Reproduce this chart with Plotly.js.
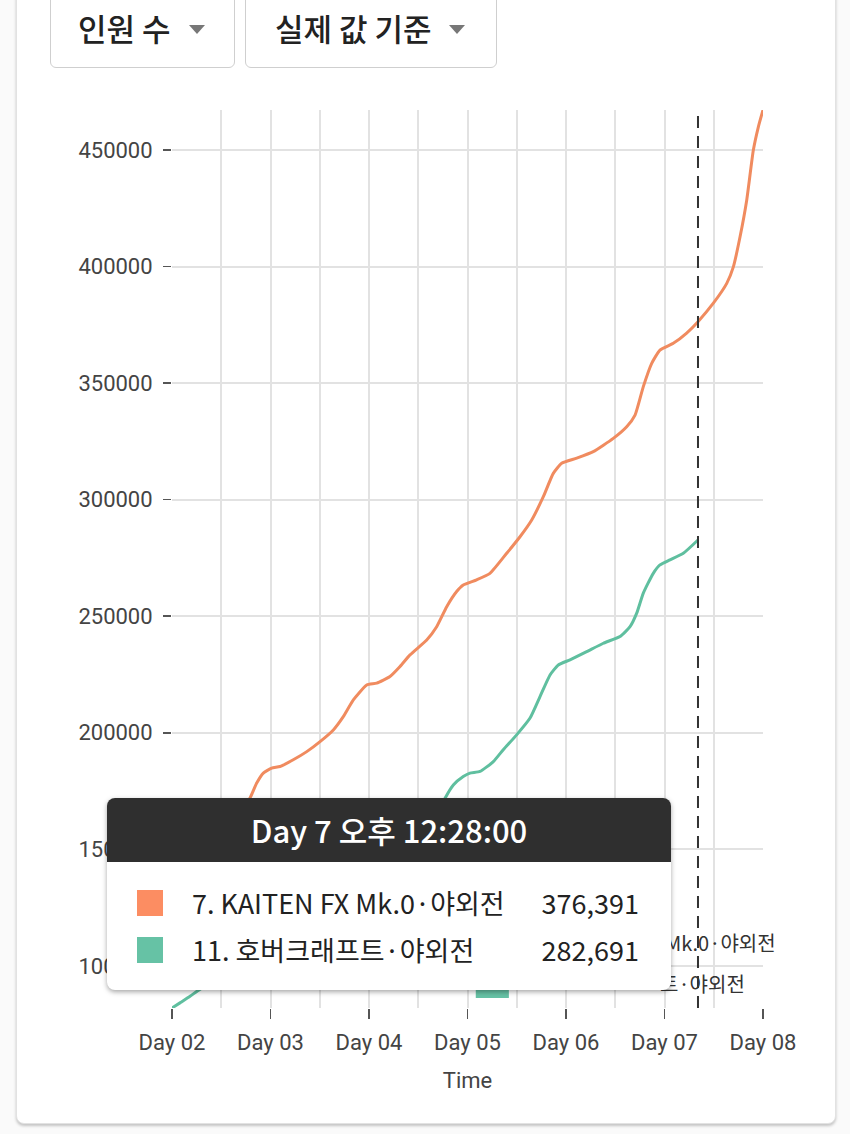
<!DOCTYPE html>
<html><head><meta charset="utf-8">
<script src="https://cdn.plot.ly/plotly-3.0.1.min.js"></script>
<style>
html,body{margin:0;padding:0;width:850px;height:1134px;overflow:hidden;background:#fafafa;font-family:"Noto Sans CJK KR","Noto Sans",sans-serif;}
#card{position:absolute;left:16px;top:-20px;width:818px;height:1142px;background:#fff;border:1px solid #e2e2e2;border-radius:8px;box-shadow:0 2px 3px rgba(0,0,0,0.22);}
.dd{position:absolute;top:-12px;height:80px;border:1px solid #cfcfcf;border-radius:6px;background:#fff;box-sizing:border-box;color:#222;}
.dd .t{position:absolute;left:27px;top:23px;font-size:31px;line-height:31px;font-weight:500;white-space:nowrap;}
.dd .a{position:absolute;top:36px;width:0;height:0;border-left:8px solid transparent;border-right:8px solid transparent;border-top:9px solid #777;}
#plot{position:absolute;left:0;top:0;width:850px;height:1134px;}
#tip{position:absolute;left:107px;top:798px;width:564px;height:192px;background:#fff;border-radius:8px;box-shadow:0 2px 5px rgba(0,0,0,0.35);overflow:hidden;}
#tip .h{height:64px;background:#2f2f2f;color:#fff;font-size:31px;line-height:64px;text-align:center;font-weight:500;}
#tip .r{position:absolute;left:0;width:564px;height:32px;}
#tip .s{position:absolute;left:30px;top:3px;width:26px;height:26px;}
#tip .n{position:absolute;left:85px;top:0;font-size:27px;line-height:32px;color:#222;white-space:nowrap;}
#tip .v{position:absolute;right:32px;top:0;font-size:27px;line-height:32px;color:#222;}
</style></head>
<body>
<div id="card"></div>
<div class="dd" style="left:50px;width:185px;"><span class="t">인원 수</span><span class="a" style="left:138px;"></span></div>
<div class="dd" style="left:245px;width:252px;"><span class="t" style="left:29px;">실제 값 기준</span><span class="a" style="left:203px;"></span></div>
<div id="plot"></div>
<div id="tip"></div>
<script>
// x values: day number (2.0 = Day 02 00:00)
const seriesNames = ["7. KAITEN FX Mk.0·야외전", "11. 호버크래프트·야외전"];
const endLabels = ["Mk.0·야외전", "트·야외전"];  // visible parts of the end labels (rest hidden by tooltip)
const seriesColors = ["#fc8d62", "#66c2a5"];
const hoverDay = 7.34;
const hoverTitle = "Day 7 오후 12:28:00";

const orangeDays = [2.000,2.234,2.437,2.609,2.721,2.799,2.860,2.927,3.012,3.096,3.231,3.368,3.503,3.638,3.739,3.841,3.977,4.078,4.213,4.315,4.416,4.586,4.687,4.789,4.890,4.957,5.093,5.228,5.398,5.533,5.652,5.770,5.871,5.956,6.109,6.277,6.480,6.616,6.701,6.785,6.870,6.954,7.089,7.225,7.340,7.496,7.632,7.699,7.767,7.835,7.902,7.953,8.000];
const orangeValues = [143300,147600,152800,160500,166900,172600,178400,182700,184800,185500,188400,191900,196200,201200,206900,214100,220500,221300,224100,228400,233400,239800,245500,254100,260600,263400,265600,268400,277000,284100,291300,301300,311300,315600,317800,320600,326300,331300,336300,348500,358500,364200,367100,371500,376391,384300,392800,399900,412800,428600,450000,460000,467200];

const greenDays = [2.000,2.081,2.183,2.251,2.497,2.741,2.914,3.046,3.299,3.553,3.756,3.909,4.061,4.315,4.569,4.690,4.772,4.856,4.957,5.025,5.127,5.262,5.363,5.499,5.635,5.736,5.838,5.922,6.041,6.210,6.379,6.548,6.650,6.718,6.785,6.886,6.954,7.056,7.191,7.340];
const greenValues = [81900,84100,86900,89000,96200,106900,114600,117600,121900,127500,136900,142900,145100,149800,157500,164800,171900,177600,181200,182700,183400,187600,192700,199100,206300,215500,224800,229100,231300,234800,238400,241300,245500,251300,259900,268400,272000,274200,277000,282691];

const xTickVals = [2,3,4,5,6,7,8];
const xTickText = ["Day 02","Day 03","Day 04","Day 05","Day 06","Day 07","Day 08"];
const yTickVals = [100000,150000,200000,250000,300000,350000,400000,450000];

const traces = [
  {x: orangeDays, y: orangeValues, name: seriesNames[0], type: 'scatter', mode: 'lines',
   line: {color: '#f08b5f', width: 3, shape: 'spline', smoothing: 0.5}},
  {x: greenDays, y: greenValues, name: seriesNames[1], type: 'scatter', mode: 'lines',
   line: {color: '#5fbf9f', width: 3, shape: 'spline', smoothing: 0.5}}
];

const tickFont = {family: 'Roboto, "Noto Sans", sans-serif', size: 22, color: '#444'};
const layout = {
  width: 850, height: 1134,
  margin: {l: 172, r: 87, t: 110, b: 126},
  paper_bgcolor: 'rgba(0,0,0,0)', plot_bgcolor: '#fff',
  showlegend: false,
  xaxis: {
    range: [2, 8], tickvals: xTickVals, ticktext: xTickText,
    ticks: 'outside', ticklen: 10, tickwidth: 1.5, tickcolor: '#555',
    showgrid: true, gridcolor: '#e2e2e2', gridwidth: 2, zeroline: false, showline: false,
    minor: {dtick: 0.5, tick0: 2, showgrid: true, gridcolor: '#e2e2e2', gridwidth: 2, ticks: ''},
    tickfont: tickFont, ticklabelstandoff: 5,
    title: {text: 'Time', font: {family: 'Roboto, "Noto Sans", sans-serif', size: 22, color: '#444'}, standoff: 18}
  },
  yaxis: {
    range: [81900, 467200], tickvals: yTickVals, tickformat: 'd',
    ticks: 'outside', ticklen: 8, tickwidth: 1.5, tickcolor: '#555',
    showgrid: true, gridcolor: '#e2e2e2', gridwidth: 2, zeroline: false, showline: false,
    tickfont: tickFont, ticklabelstandoff: 6
  },
  shapes: [
    {type: 'line', xref: 'x', yref: 'paper', x0: hoverDay, x1: hoverDay, y0: 0, y1: 1,
     line: {color: '#333', width: 2, dash: '12px,8px'}},
    {type: 'rect', xref: 'paper', yref: 'paper', x0: 0.514, x1: 0.570, y0: 0.011, y1: 0.05,
     fillcolor: '#66c2a5', line: {width: 0}}
  ],
  annotations: [
    {xref: 'paper', yref: 'paper', x: 1.0254, y: 0.0724, xanchor: 'right', yanchor: 'middle', showarrow: false,
     text: endLabels[0], font: {family: '"Noto Sans CJK KR", "Noto Sans", sans-serif', size: 20, color: '#333'}},
    {xref: 'paper', yref: 'paper', x: 0.973, y: 0.0278, xanchor: 'right', yanchor: 'middle', showarrow: false,
     text: endLabels[1], font: {family: '"Noto Sans CJK KR", "Noto Sans", sans-serif', size: 20, color: '#333'}}
  ]
};

Plotly.newPlot('plot', traces, layout, {staticPlot: true, displayModeBar: false});

// tooltip built from the data arrays
function valueAt(days, vals, d) {
  for (let i = 0; i < days.length; i++) if (Math.abs(days[i] - d) < 1e-9) return vals[i];
  return vals[vals.length - 1];
}
const tipVals = [valueAt(orangeDays, orangeValues, hoverDay), valueAt(greenDays, greenValues, hoverDay)];
const rowTops = [89, 136];
let html = '<div class="h">' + hoverTitle + '</div>';
for (let i = 0; i < 2; i++) {
  html += '<div class="r" style="top:' + rowTops[i] + 'px"><div class="s" style="background:' + seriesColors[i] + '"></div>' +
    '<div class="n">' + seriesNames[i] + '</div><div class="v">' + tipVals[i].toLocaleString('en-US') + '</div></div>';
}
document.getElementById('tip').innerHTML = html;
</script>
</body></html>
